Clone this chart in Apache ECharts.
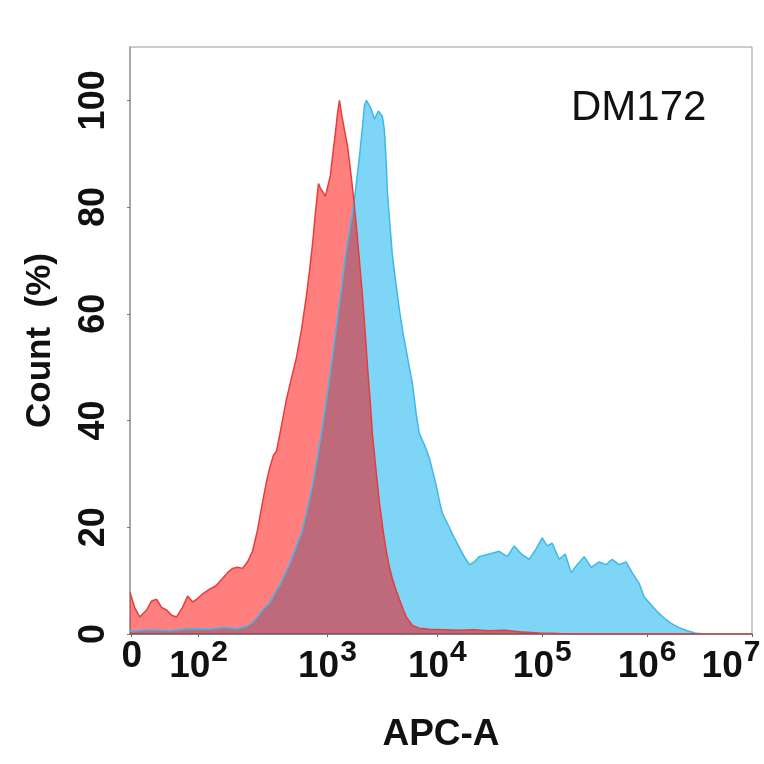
<!DOCTYPE html>
<html>
<head>
<meta charset="utf-8">
<script src="https://cdn.jsdelivr.net/npm/echarts@6/dist/echarts.min.js"></script>
<style>
html,body{margin:0;padding:0;background:#fff;}
#chart{width:764px;height:764px;}
</style>
</head>
<body>
<div id="chart"></div>
<script>
// x values are in display units of the biexponential APC-A scale (100 per decade; 10^4 = 400)
const xTickPos    = [108.6, 172.4, 295.2, 400, 500, 600, 700];
const xLabelPos   = [108.6, 172.4, 295.2, 400, 500, 600, 680];
const xTickBase   = ['0', '10', '10', '10', '10', '10', '10'];
const xTickExp    = ['', '2', '3', '4', '5', '6', '7'];
const yTicks = [0, 20, 40, 60, 80, 100];

const redX = [107,111.4,116.2,122.9,127.6,132.4,137.1,141.9,146.7,151.4,157.1,161.9,166.7,170.5,176.2,182.9,188.6,195.2,200,204.8,209.5,214.3,219,223.8,228.6,233.3,237.1,240,243.8,246.7,251.4,256.2,261,265.7,270.5,275.2,278.1,281,283.8,286.7,288.6,290.5,293.3,295.2,298.1,300,302.9,304.8,306.7,308.6,311.4,314.3,316.2,320,322.9,325.7,328.6,331.4,333.3,336.2,338.1,341.9,344.8,348.6,351.4,354.3,357.1,361,363.8,367.6,370.5,376.2,382.9,392.4,406.7,421,435.2,449.5,463.8,478.1,497.1,516.2,554.3,649.5,700];
const redY = [7.8,5,3.2,4.5,6.2,6.5,5,4.5,3.5,3.2,5,7.1,6,6.5,7.5,8.4,9,10.4,11.5,12.3,12.5,12.3,13.5,15.5,19.5,24.6,28.5,31,33.5,34.3,39,44,48,51.8,57,63.4,68,73,79,84.4,83.5,83,82,81.8,86,89.3,94,97.5,100,97.5,94.5,91.5,88.6,82,76.3,70,63.4,56,50.5,43,37.5,30,24.6,19,15.5,12.5,10.4,8,6.5,4.5,3.2,1.6,1.1,0.9,0.8,0.7,0.8,0.6,0.7,0.4,0.2,0.1,0,0,0];

const blueX = [107,126,145,164,183,197,209.5,219,223.8,228.6,233.3,240,244.8,249.5,254.3,259,264.8,271.4,276.2,281,285.7,290.5,295.2,300,304.8,309.5,313.3,318.1,321.9,325.7,328.6,330.5,332.4,335.2,337.1,340,341.9,343.8,345.7,347.6,349.5,351.4,352.4,354.3,357.1,361,363.8,367.6,370.5,373.3,376.2,380,382.9,387.6,392.4,396.2,399,401.9,404.8,411.4,416.2,421,425.7,430.5,435.2,440,449.5,459,466.7,473.3,480,487.6,494.3,500,504.8,509.5,516.2,521.9,527.6,533.3,540,546.7,554.3,561,566.7,573.3,580,585.7,592.4,597.1,603.8,609.5,616.2,622.9,630.5,638.1,645.7,654.3,700];
const blueY = [0.5,0.8,0.6,1,0.9,1.2,1,1.5,2.2,3.2,4.5,5.8,7.5,9,11,13,16,19.4,23.5,27.8,33,38.8,45,51.8,59,66,72,77.6,83,89.3,95,99,100,99,98.3,96.5,96.8,98,98.3,97,94.5,88,82.8,78,71,65,60.8,56,53,50,47,41,37.5,35.5,33,30,27.8,25,22.6,20,18,16.2,14.5,13,13.5,14.5,15,15.5,14.5,16.5,15,14,16,18,16.5,17,14,15,11.5,13,14.5,12.5,13.5,13,14,13,13.5,11.5,9.5,7,5.5,4.2,3,2,1.2,0.6,0.2,0,0];

const zip = (xs, ys) => xs.map((x, i) => [x, ys[i]]);

const chart = echarts.init(document.getElementById('chart'));
const FONT = '"Liberation Sans", Arial, sans-serif';

chart.setOption({
  animation: false,
  backgroundColor: '#fff',
  title: {
    text: 'DM172',
    left: 571, top: 87, padding: 0,
    textStyle: { fontFamily: FONT, fontSize: 42, fontWeight: 'normal', color: '#111' }
  },
  grid: {
    left: 130, top: 47, right: 12, bottom: 130,
    show: true, borderColor: '#9a9a9a', borderWidth: 1, backgroundColor: 'transparent'
  },
  xAxis: {
    type: 'value', min: 107, max: 700,
    name: 'APC-A', nameLocation: 'middle', nameGap: 82,
    nameTextStyle: { fontFamily: FONT, fontSize: 37, fontWeight: 'bold', color: '#111' },
    axisLine: { show: true, lineStyle: { color: '#666', width: 1.5 } },
    axisTick: { show: true, customValues: xTickPos, length: 3, lineStyle: { color: '#666' } },
    splitLine: { show: false },
    axisLabel: {
      customValues: xLabelPos,
      margin: 4,
      formatter: function (v) {
        const i = xLabelPos.findIndex(p => Math.abs(p - v) < 0.01);
        if (i < 0) return '';
        return '{b|' + xTickBase[i] + '}' + (xTickExp[i] ? '{s|' + xTickExp[i] + '}' : '');
      },
      rich: {
        b: { fontFamily: FONT, fontSize: 37, fontWeight: 'bold', color: '#111' },
        s: { fontFamily: FONT, fontSize: 30, fontWeight: 'bold', color: '#111', padding: [0, 0, 28, 1] }
      }
    }
  },
  yAxis: {
    type: 'value', min: 0, max: 110,
    name: 'Count  (%)', nameLocation: 'middle', nameGap: 72, nameRotate: 90,
    nameTextStyle: { fontFamily: FONT, fontSize: 35, fontWeight: 'bold', color: '#111' },
    axisLine: { show: true, lineStyle: { color: '#9a9a9a', width: 1.5 } },
    axisTick: { show: true, customValues: yTicks, length: 3, lineStyle: { color: '#777' } },
    splitLine: { show: false },
    axisLabel: {
      customValues: yTicks, rotate: 90, margin: 18,
      fontFamily: FONT, fontSize: 36, fontWeight: 'bold', color: '#111'
    }
  },
  series: [
    {
      name: 'DM172', type: 'line', data: zip(blueX, blueY), symbol: 'none',
      lineStyle: { color: '#3cb9e8', width: 1.5 },
      areaStyle: { color: 'rgba(0,172,238,0.5)', opacity: 1 }
    },
    {
      name: 'Control', type: 'line', data: zip(redX, redY), symbol: 'none',
      lineStyle: { color: '#e83c3c', width: 1.5 },
      areaStyle: { color: 'rgba(255,0,0,0.5)', opacity: 1 }
    }
  ]
});
</script>
</body>
</html>
